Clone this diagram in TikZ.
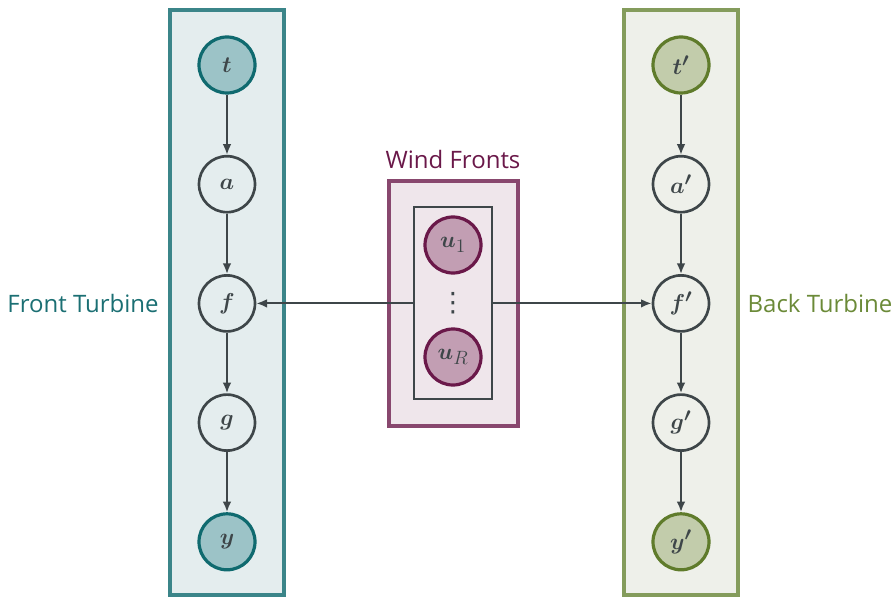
\documentclass[tikz,border=0pt]{standalone}
\usepackage{amsmath}
\usepackage{fontspec}
\setmainfont{Open Sans}
\newfontfamily\symfont{DejaVu Sans}
\usetikzlibrary{shapes.geometric, arrows.meta, positioning}

\definecolor{edgeGray}{HTML}{3E4649}
\definecolor{frontFill}{HTML}{E4EDEE}
\definecolor{frontLine}{HTML}{3B8589}
\definecolor{frontNodeFill}{HTML}{9CC3C7}
\definecolor{frontNodeLine}{HTML}{0F6A6F}
\definecolor{frontText}{HTML}{1B6F73}
\definecolor{backFill}{HTML}{EEF0EA}
\definecolor{backLine}{HTML}{849C5C}
\definecolor{backNodeFill}{HTML}{C2CCAB}
\definecolor{backNodeLine}{HTML}{5F7B2B}
\definecolor{backText}{HTML}{6B8A38}
\definecolor{windFill}{HTML}{EFE6EB}
\definecolor{windLine}{HTML}{88476E}
\definecolor{windNodeFill}{HTML}{C29EB3}
\definecolor{windNodeLine}{HTML}{6A1849}

\tikzstyle{panel} = [rectangle, minimum width=85.5pt, minimum height=438.75pt, line width=3pt, inner sep=0pt]
\tikzstyle{latent} = [circle, minimum size=42pt, inner sep=0pt, draw=edgeGray, line width=2pt, text=edgeGray,
font=\fontsize{19}{22}\selectfont]
\tikzstyle{frontObs} = [latent, fill=frontNodeFill, draw=frontNodeLine, line width=2.4pt]
\tikzstyle{backObs} = [latent, fill=backNodeFill, draw=backNodeLine, line width=2.4pt]
\tikzstyle{windObs} = [latent, fill=windNodeFill, draw=windNodeLine, line width=2.4pt]
\tikzstyle{label} = [font=\fontsize{18}{21}\selectfont]
\tikzstyle{edge} = [-{Latex[length=8pt, width=6.5pt]}, draw=edgeGray, line width=1.5pt]

\begin{document}
\begin{tikzpicture}[x=0.75pt, y=-0.75pt, node distance=89.4pt]
    \useasboundingbox (0,0) rectangle (896,599);

    % panels
    \node(frontPanel)[panel, draw=frontLine, fill=frontFill] at (227,302.5) {};
    \node(backPanel)[panel, draw=backLine, fill=backFill] at (681,302.5) {};
    \node(windPanel)[rectangle, minimum width=96.75pt, minimum height=183.75pt, line width=3pt, draw=windLine,
    fill=windFill] at (453.5,303.5) {};
    \node(plate)[rectangle, minimum width=58.5pt, minimum height=144pt, draw=edgeGray, line width=1.5pt] at (453,303.4) {};

    % front turbine
    \node(t)[frontObs] at (227,65) {$\boldsymbol{t}$};
    \node(a)[latent, below of=t] {$\boldsymbol{a}$};
    \node(f)[latent, below of=a] {$\boldsymbol{f}$};
    \node(g)[latent, below of=f] {$\boldsymbol{g}$};
    \node(y)[frontObs, below of=g] {$\boldsymbol{y}$};

    % back turbine
    \node(tp)[backObs] at (681,65) {$\boldsymbol{t'}$};
    \node(ap)[latent, below of=tp] {$\boldsymbol{a'}$};
    \node(fp)[latent, below of=ap] {$\boldsymbol{f'}$};
    \node(gp)[latent, below of=fp] {$\boldsymbol{g'}$};
    \node(yp)[backObs, below of=gp] {$\boldsymbol{y'}$};

    % wind fronts
    \node(u1)[windObs] at (453,245) {$\boldsymbol{u}_1$};
    \node(uR)[windObs, below of=u1, node distance=84pt] {$\boldsymbol{u}_R$};
    \node(dots)[text=edgeGray, inner sep=0pt, font=\symfont\fontsize{20}{22}\selectfont] at (453,303) {⋮};

    % labels
    \node(frontLabel)[label, text=frontText] at (83,303) {Front Turbine};
    \node(backLabel)[label, text=backText] at (820,303) {Back Turbine};
    \node(windLabel)[label, text=windNodeLine] at (453,160) {Wind Fronts};

    \draw[edge] (t) -- (a);
    \draw[edge] (a) -- (f);
    \draw[edge] (f) -- (g);
    \draw[edge] (g) -- (y);
    \draw[edge] (tp) -- (ap);
    \draw[edge] (ap) -- (fp);
    \draw[edge] (fp) -- (gp);
    \draw[edge] (gp) -- (yp);

    \draw[edge] (plate.west) -- (f.east);
    \draw[edge] (plate.east) -- (fp.west);
\end{tikzpicture}
\end{document}
